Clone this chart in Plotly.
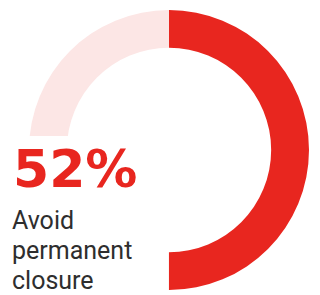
import plotly.graph_objects as go

labels = ["Avoid permanent closure", "Other"]
values = [50, 50]
colors = ["#E8261F", "#FCE6E5"]
headline = "52%"
caption_lines = ["Avoid", "permanent", "closure"]

W, H = 320, 295
cx, cy, R = 169, 150, 140

def px(x):
    return x / W

def py(y):
    return 1 - y / H

fig = go.Figure(go.Pie(
    labels=labels, values=values, hole=0.73, sort=False,
    direction="clockwise", rotation=0,
    marker=dict(colors=colors, line=dict(width=0)),
    textinfo="none", hoverinfo="skip", showlegend=False,
    domain=dict(x=[px(cx - R), px(cx + R)], y=[py(cy + R), py(cy - R)]),
))

fig.add_shape(type="rect", xref="paper", yref="paper",
              x0=px(0), x1=px(168.5), y0=py(295), y1=py(136),
              fillcolor="white", line=dict(width=0), layer="above")

fig.add_annotation(text=headline, xref="paper", yref="paper",
                   x=px(11), y=py(169), xanchor="left", yanchor="middle",
                   showarrow=False,
                   font=dict(family="DejaVu Sans", size=52, color="#E8261F", weight=700))

for i, line in enumerate(caption_lines):
    fig.add_annotation(text=line, xref="paper", yref="paper",
                       x=px(10), y=py(220 + 30 * i), xanchor="left", yanchor="middle",
                       showarrow=False,
                       font=dict(family="Roboto", size=25, color="#2e2e2e"))

fig.update_layout(width=W, height=H, margin=dict(l=0, r=0, t=0, b=0),
                  paper_bgcolor="white", plot_bgcolor="white")
fig.write_html("out.html", config={"displayModeBar": False},
               post_script="document.body.style.margin='0';document.body.style.overflow='hidden';")
